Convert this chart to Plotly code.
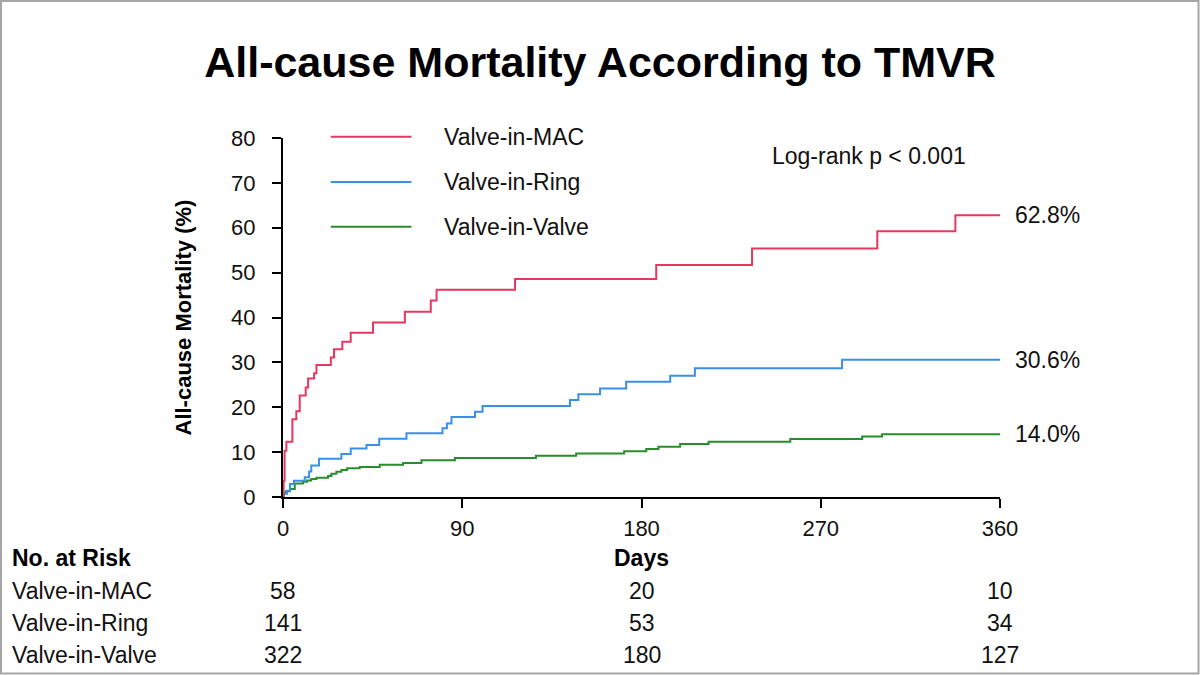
import plotly.graph_objects as go

# ---------------- data ----------------
mac_days = [0, 0.3, 0.8, 1.7, 4.7, 6.7, 8.4, 11.4, 12.6, 15.6, 16.8, 24.0, 25.6, 29.8, 34.0,
            45.2, 61.2, 74.2, 77.1, 116.5, 187.4, 235.5, 298.4, 337.6, 360]
mac_pct = [0, 3.6, 10.3, 12.3, 17.3, 19.1, 22.6, 24.4, 26.4, 27.6, 29.4, 31.1, 32.9, 34.6, 36.6,
           38.9, 41.3, 43.8, 46.2, 48.6, 51.7, 55.4, 59.2, 62.8, 62.8]

ring_days = [0, 0.5, 2, 3.5, 5.5, 10.9, 13.1, 14.2, 18.1, 29.3, 34.0, 41.9, 48.3, 62.0, 80.1,
             82.3, 84.6, 96.4, 100.2, 144.1, 148.3, 159.2, 172.3, 194.4, 206.8, 280.7, 360]
ring_pct = [0, 0.7, 1.4, 2.9, 3.6, 4.4, 5.7, 7.0, 8.5, 9.6, 10.8, 11.6, 13.0, 14.2, 15.3,
            16.4, 17.8, 19.0, 20.3, 21.6, 22.9, 24.2, 25.7, 27.0, 28.7, 30.6, 30.6]

valve_days = [0, 0.3, 1.5, 3.5, 5.9, 10.0, 12.1, 14.2, 16.8, 22.6, 24.3, 26.8, 29.3, 32.2, 38.5,
              48.6, 60.3, 69.5, 86.3, 127.0, 147.2, 171.3, 182.4, 188.5, 199.4, 213.7, 254.7,
              290.8, 300.8, 360]
valve_pct = [0, 0.9, 1.3, 1.8, 3.0, 3.4, 3.7, 4.0, 4.3, 4.7, 5.2, 5.6, 6.0, 6.4, 6.7,
             7.2, 7.6, 8.2, 8.7, 9.2, 9.7, 10.2, 10.7, 11.2, 11.8, 12.3, 12.9,
             13.5, 14.0, 14.0]

series_names = ["Valve-in-MAC", "Valve-in-Ring", "Valve-in-Valve"]
final_labels = ["62.8%", "30.6%", "14.0%"]
final_values = [62.8, 30.6, 14.0]

x_ticks = [0, 90, 180, 270, 360]
y_ticks = [0, 10, 20, 30, 40, 50, 60, 70, 80]

risk_days = [0, 180, 360]
risk_mac = [58, 20, 10]
risk_ring = [141, 53, 34]
risk_valve = [322, 180, 127]

# ---------------- style ----------------
FONT = "Liberation Sans, Arial, sans-serif"
C_MAC = "#E6385F"
C_RING = "#3A8FE8"
C_VALVE = "#2A8C2A"
colors = [C_MAC, C_RING, C_VALVE]

W, H = 1200, 675
L, R, T, B = 283, 200, 138, 178
PW, PH = W - L - R, H - T - B
XMAX, YMAX = 360.0, 80.0


def px_x(d):  # data day -> paper x
    return d / XMAX


def px_y(v):  # data percent -> paper y
    return v / YMAX


def py(ypx):  # pixel y -> paper y
    return (H - B - ypx) / PH


fig = go.Figure()
for d, p, c, n in [(valve_days, valve_pct, C_VALVE, series_names[2]),
                   (ring_days, ring_pct, C_RING, series_names[1]),
                   (mac_days, mac_pct, C_MAC, series_names[0])]:
    fig.add_trace(go.Scatter(x=d, y=p, mode="lines", name=n,
                             line=dict(shape="hv", color=c, width=2),
                             showlegend=False, hoverinfo="skip", cliponaxis=False))

ann = []
shapes = []
txt = dict(family=FONT, size=23, color="#111")

# legend (manual)
leg_y = [80.3, 70.2, 60.2]
for n, c, yy in zip(series_names, colors, leg_y):
    shapes.append(dict(type="line", xref="paper", yref="paper", x0=px_x(24), x1=px_x(64.5),
                       y0=px_y(yy), y1=px_y(yy), line=dict(color=c, width=2)))
    ann.append(dict(x=px_x(80), y=px_y(yy), xref="paper", yref="paper", text=n, showarrow=False,
                    xanchor="left", yanchor="middle", font=txt))

ann.append(dict(x=px_x(244.7), y=px_y(76.0), xref="paper", yref="paper", text="Log-rank p < 0.001",
                showarrow=False, xanchor="left", yanchor="middle", font=txt))

for lab, v in zip(final_labels, final_values):
    ann.append(dict(x=px_x(366.7), y=px_y(v), xref="paper", yref="paper", text=lab, showarrow=False,
                    xanchor="left", yanchor="middle", font=txt))

# y axis title
ann.append(dict(x=(183 - L) / PW, y=0.5, xref="paper", yref="paper", text="All-cause Mortality (%)",
                textangle=-90, showarrow=False, xanchor="center", yanchor="middle",
                font=dict(family=FONT, size=22, color="#000", weight="bold")))

# At-risk table
lx = (10 - L) / PW
bold = dict(family=FONT, size=23, color="#000", weight="bold")
ann.append(dict(x=lx, y=py(558), xref="paper", yref="paper", text="No. at Risk", showarrow=False,
                xanchor="left", yanchor="middle", font=bold))
ann.append(dict(x=px_x(180), y=py(558), xref="paper", yref="paper", text="Days", showarrow=False,
                xanchor="center", yanchor="middle", font=bold))
for n, row, ypx in zip(series_names, [risk_mac, risk_ring, risk_valve], [591, 623, 655]):
    ann.append(dict(x=lx, y=py(ypx), xref="paper", yref="paper", text=n, showarrow=False,
                    xanchor="left", yanchor="middle", font=txt))
    for dd, v in zip(risk_days, row):
        ann.append(dict(x=px_x(dd), y=py(ypx), xref="paper", yref="paper", text=str(v),
                        showarrow=False, xanchor="center", yanchor="middle", font=txt))

# outer border
shapes.append(dict(type="rect", xref="paper", yref="paper",
                   x0=(1 - L) / PW, x1=(W - 1.5 - L) / PW, y0=py(H - 1.5), y1=py(1),
                   line=dict(color="#A6A6A6", width=2), fillcolor="rgba(0,0,0,0)"))

fig.update_layout(
    width=W, height=H,
    margin=dict(l=L, r=R, t=T, b=B, pad=0),
    paper_bgcolor="white", plot_bgcolor="white",
    title=dict(text="All-cause Mortality According to TMVR", x=0.5, xref="container", xanchor="center",
               y=1 - 62 / H, yref="container", yanchor="middle",
               font=dict(family=FONT, size=43, color="#000", weight="bold")),
    xaxis=dict(range=[0, XMAX], tickvals=x_ticks, ticktext=[str(v) for v in x_ticks],
               showline=True, linecolor="black", linewidth=2, ticks="outside", ticklen=9,
               tickwidth=2, tickcolor="black", showgrid=False, zeroline=False,
               ticklabelstandoff=2,
               tickfont=dict(family=FONT, size=22, color="#111")),
    yaxis=dict(range=[0, YMAX], tickvals=y_ticks, ticktext=[str(v) for v in y_ticks],
               showline=True, linecolor="black", linewidth=2, ticks="outside", ticklen=9,
               tickwidth=2, tickcolor="black", showgrid=False, zeroline=False,
               ticklabelstandoff=12,
               tickfont=dict(family=FONT, size=22, color="#111")),
    annotations=ann, shapes=shapes,
)

fig.write_html("out.html")
